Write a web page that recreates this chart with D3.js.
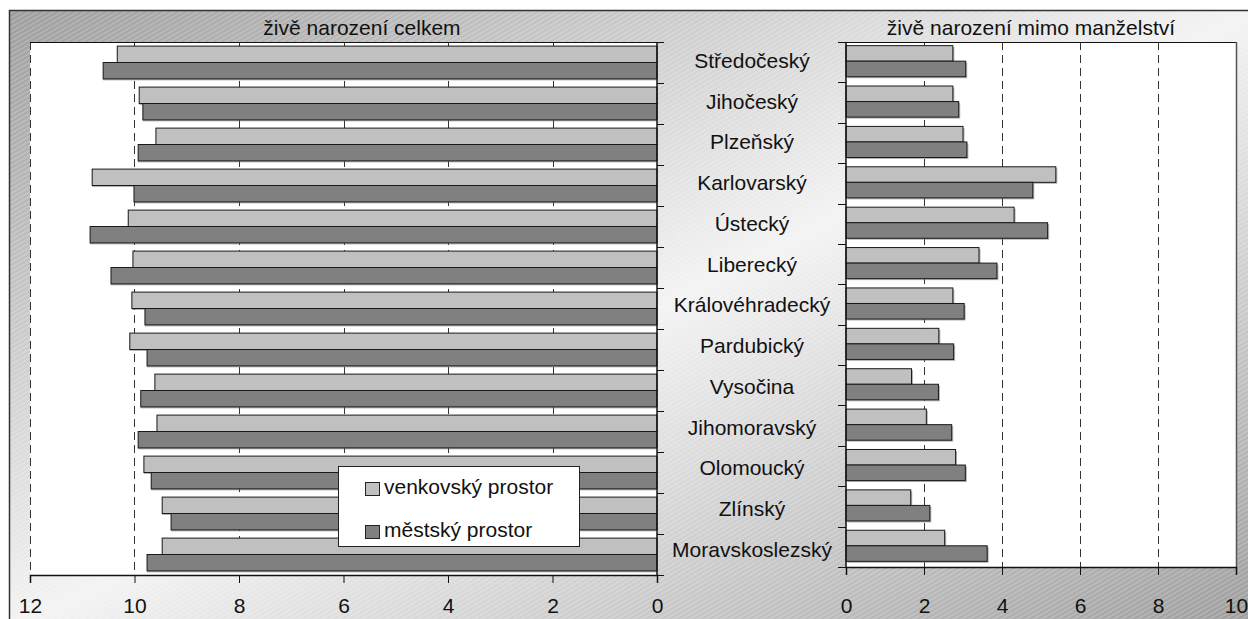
<!DOCTYPE html>
<html lang="cs">

<head>
    <meta charset="UTF-8">
    <title>Živě narození</title>
    <script src="https://d3js.org/d3.v7.min.js"></script>
    <style>
        body,
        html {
            margin: 0px;
            background: #fff;
        }

        text {
            font-family: "Liberation Sans", Arial, sans-serif;
            font-size: 21px;
            fill: #111;
        }
    </style>
</head>

<body>
    <div id="chart"></div>

    <script>
        // data
        const regions = ["Středočeský", "Jihočeský", "Plzeňský", "Karlovarský", "Ústecký", "Liberecký",
            "Královéhradecký", "Pardubický", "Vysočina", "Jihomoravský", "Olomoucký", "Zlínský", "Moravskoslezský"]
        const seriesNames = ["venkovský prostor", "městský prostor"]

        // živě narození celkem (left)
        const totalRural = [10.33, 9.91, 9.59, 10.81, 10.12, 10.03, 10.05, 10.09, 9.61, 9.57, 9.82, 9.47, 9.47]
        const totalUrban = [10.60, 9.84, 9.93, 10.01, 10.85, 10.45, 9.80, 9.76, 9.88, 9.93, 9.68, 9.30, 9.76]

        // živě narození mimo manželství (right)
        const outRural = [2.74, 2.74, 3.00, 5.38, 4.31, 3.41, 2.74, 2.38, 1.68, 2.06, 2.81, 1.66, 2.53]
        const outUrban = [3.07, 2.89, 3.10, 4.79, 5.17, 3.87, 3.03, 2.76, 2.37, 2.71, 3.06, 2.15, 3.62]

        const leftTicks = [12, 10, 8, 6, 4, 2, 0]
        const rightTicks = [0, 2, 4, 6, 8, 10]

        const width = 1248, height = 619
        const colors = ["#c0c0c0", "#808080"]

        const svg = d3.select("#chart").append("svg")
            .attr("width", width)
            .attr("height", height)

        const defs = svg.append("defs")
        const grad = defs.append("linearGradient")
            .attr("id", "bg")
            .attr("x1", 0).attr("y1", 0).attr("x2", 1).attr("y2", 1)
        grad.append("stop").attr("offset", "0%").attr("stop-color", "#9c9c9c")
        grad.append("stop").attr("offset", "50%").attr("stop-color", "#f3f3f3")
        grad.append("stop").attr("offset", "100%").attr("stop-color", "#9a9a9a")

        const hatch = defs.append("pattern")
            .attr("id", "hatch")
            .attr("width", 4).attr("height", 4)
            .attr("patternUnits", "userSpaceOnUse")
            .attr("patternTransform", "rotate(-30)")
        hatch.append("line")
            .attr("x1", 0).attr("y1", 1).attr("x2", 4).attr("y2", 1)
            .attr("stroke", "#fff").attr("stroke-opacity", 0.35).attr("stroke-width", 1)

        // chart background frame
        svg.append("rect")
            .attr("x", 9.5).attr("y", 10.5)
            .attr("width", width).attr("height", height)
            .attr("fill", "url(#bg)")
        svg.append("rect")
            .attr("x", 9.5).attr("y", 10.5)
            .attr("width", width).attr("height", height)
            .attr("fill", "url(#hatch)")
            .attr("stroke", "#333")
            .attr("stroke-width", 1.5)

        // ---- left panel ----
        const L = { left: 30, right: 657, top: 42, bottom: 575 }
        const xL = d3.scaleLinear().domain([0, 12]).range([L.right, L.left])
        const yL = d3.scaleBand().domain(regions).range([L.top, L.bottom])
        const subL = d3.scaleBand().domain(seriesNames).range([yL.bandwidth() * 0.1, yL.bandwidth() * 0.9])

        // ---- right panel ----
        const R = { left: 846, right: 1236, top: 42, bottom: 567 }
        const xR = d3.scaleLinear().domain([0, 10]).range([R.left, R.right])
        const yR = d3.scaleBand().domain(regions).range([R.top, R.bottom])
        const subR = d3.scaleBand().domain(seriesNames).range([yR.bandwidth() * 0.09, yR.bandwidth() * 0.86])

        function panelData(a, b) {
            const out = []
            regions.forEach((r, i) => {
                out.push({ region: r, series: seriesNames[0], value: a[i], k: 0 })
                out.push({ region: r, series: seriesNames[1], value: b[i], k: 1 })
            })
            return out
        }

        function drawPanel(P, x, y, sub, ticks, data, leftSide) {
            const g = svg.append("g")

            g.append("rect")
                .attr("x", P.left).attr("y", P.top)
                .attr("width", P.right - P.left).attr("height", P.bottom - P.top)
                .attr("fill", "#fff")

            // gridlines
            g.selectAll(".grid")
                .data(ticks.filter(t => leftSide ? t !== 0 : (t !== 0 && t !== 10)))
                .enter().append("line")
                .attr("x1", d => Math.round(x(d)) + 0.5).attr("x2", d => Math.round(x(d)) + 0.5)
                .attr("y1", P.top).attr("y2", P.bottom)
                .attr("stroke", "#333")
                .attr("stroke-dasharray", "8,5")

            // bar shadows
            g.selectAll(".shadow")
                .data(data)
                .enter().append("rect")
                .attr("x", d => Math.min(x(0), x(d.value)) + (leftSide ? 0 : 1.5))
                .attr("y", d => y(d.region) + sub(d.series) + 1.5)
                .attr("width", d => Math.abs(x(d.value) - x(0)) + (leftSide ? -1 : 0))
                .attr("height", sub.bandwidth())
                .attr("fill", "#777")
                .attr("opacity", 0.55)

            g.selectAll(".bar")
                .data(data)
                .enter().append("rect")
                .attr("x", d => Math.min(x(0), x(d.value)))
                .attr("y", d => y(d.region) + sub(d.series))
                .attr("width", d => Math.abs(x(d.value) - x(0)))
                .attr("height", sub.bandwidth())
                .attr("fill", d => colors[d.k])
                .attr("stroke", "#1a1a1a")
                .attr("stroke-width", 1)

            // plot top line
            g.append("line")
                .attr("x1", P.left).attr("x2", P.right)
                .attr("y1", P.top + 0.5).attr("y2", P.top + 0.5)
                .attr("stroke", "#111")

            if (!leftSide) {
                g.append("line")
                    .attr("x1", P.right + 0.5).attr("x2", P.right + 0.5)
                    .attr("y1", P.top).attr("y2", P.bottom)
                    .attr("stroke", "#555").attr("stroke-width", 1.5)
            }

            // value axis
            const axis = d3.axisBottom(x).tickValues(ticks).tickSize(8).tickPadding(12).tickFormat(d3.format("d"))
            const ax = g.append("g")
                .attr("transform", "translate(0," + P.bottom + ")")
                .call(axis)
            ax.select(".domain").attr("stroke", "#111").attr("stroke-width", 1.5)
            ax.selectAll(".tick line").attr("stroke", "#111")
            ax.selectAll("text")
                .attr("fill", "#111")
                .style("font-size", "21px")
                .style("font-family", '"Liberation Sans", Arial, sans-serif')
                .attr("dy", null).attr("y", 38 - (P.bottom - 575))

            // category axis (tick marks only)
            const edges = regions.map(r => y(r)).concat([P.bottom])
            const cx = leftSide ? P.right : P.left
            g.append("line")
                .attr("x1", cx).attr("x2", cx)
                .attr("y1", P.top).attr("y2", P.bottom)
                .attr("stroke", "#111").attr("stroke-width", 1.5)
            g.selectAll(".ctick")
                .data(edges)
                .enter().append("line")
                .attr("x1", cx).attr("x2", leftSide ? cx + 7 : cx - 8)
                .attr("y1", d => Math.round(d) + 0.5).attr("y2", d => Math.round(d) + 0.5)
                .attr("stroke", "#111")
        }

        drawPanel(L, xL, yL, subL, leftTicks, panelData(totalRural, totalUrban), true)
        drawPanel(R, xR, yR, subR, rightTicks, panelData(outRural, outUrban), false)

        // titles
        svg.append("text")
            .attr("x", 362).attr("y", 35)
            .attr("text-anchor", "middle")
            .text("živě narození celkem")
        svg.append("text")
            .attr("x", 1031).attr("y", 35)
            .attr("text-anchor", "middle")
            .text("živě narození mimo manželství")

        // category labels
        const yLab = d3.scaleBand().domain(regions).range([40, 570])
        svg.selectAll(".catLabel")
            .data(regions)
            .enter().append("text")
            .attr("x", 752)
            .attr("y", d => yLab(d) + yLab.bandwidth() / 2)
            .attr("dy", "0.35em")
            .attr("text-anchor", "middle")
            .text(d => d)

        // legend
        const legend = svg.append("g")
        legend.append("rect")
            .attr("x", 338.5).attr("y", 466.5)
            .attr("width", 241).attr("height", 80)
            .attr("fill", "#fff")
            .attr("stroke", "#222")
        const item = legend.selectAll(".item")
            .data(seriesNames)
            .enter().append("g")
            .attr("transform", (d, i) => "translate(365," + (482 + i * 43) + ")")
        item.append("rect")
            .attr("x", 0.5).attr("y", 0.5)
            .attr("width", 14).attr("height", 13)
            .attr("fill", (d, i) => colors[i])
            .attr("stroke", "#222")
        item.append("text")
            .attr("x", 19).attr("y", 12)
            .text(d => d)
    </script>
</body>

</html>
